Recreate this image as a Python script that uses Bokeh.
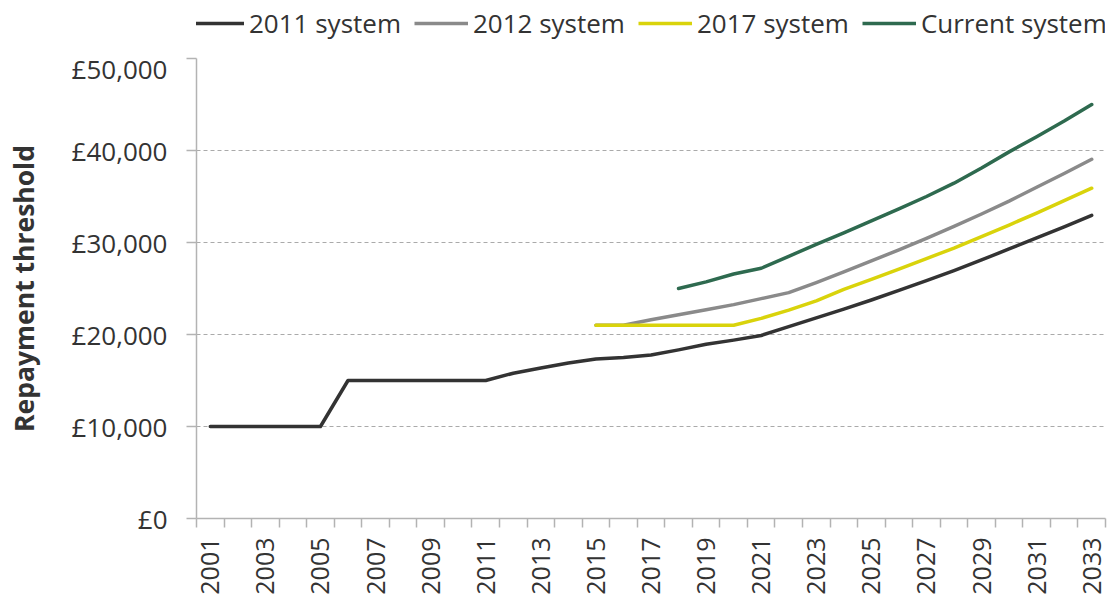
import math
from bokeh.plotting import figure
from bokeh.layouts import column
from bokeh.models import FixedTicker, Legend, LegendItem
from bokeh.embed import file_html
from bokeh.resources import INLINE

years_2011 = list(range(2001, 2034))
sys_2011 = [10000, 10000, 10000, 10000, 10000, 15000, 15000, 15000, 15000, 15000,
            15000, 15795, 16365, 16910, 17335, 17495, 17775, 18330, 18935, 19390,
            19895, 20850, 21800, 22750, 23750, 24800, 25850, 26950, 28100, 29300,
            30500, 31700, 32950]

years_2012 = list(range(2015, 2034))
sys_2012 = [21000, 21000, 21600, 22150, 22700, 23250, 23900, 24550, 25650, 26800,
            28000, 29200, 30450, 31750, 33100, 34500, 36000, 37500, 39050]

years_2017 = list(range(2015, 2034))
sys_2017 = [21000, 21000, 21000, 21000, 21000, 21000, 21750, 22650, 23650, 24900,
            26000, 27100, 28250, 29400, 30650, 31900, 33200, 34550, 35900]

years_cur = list(range(2018, 2034))
sys_cur = [25000, 25725, 26575, 27200, 28500, 29800, 31050, 32350, 33650, 35000,
           36450, 38100, 39850, 41500, 43200, 45000]

series_names = ["2011 system", "2012 system", "2017 system", "Current system"]
series_colors = ["#333333", "#8a8a8a", "#d9d30b", "#2e6a4f"]

y_ticks = [0, 10000, 20000, 30000, 40000, 50000]
y_tick_labels = ["£0", "£10,000", "£20,000", "£30,000", "£40,000", "£50,000"]
x_label_years = list(range(2001, 2034, 2))

FONT = "Open Sans"
TXT = "#333333"
AX = "#b3b3b3"

# ---- main chart ----
p = figure(width=1109, height=547, x_range=(2000.5, 2033.5), y_range=(0, 50000),
           output_backend="svg", toolbar_location=None,
           min_border_left=196, min_border_right=4, min_border_top=8, min_border_bottom=78)
p.outline_line_color = None
p.xgrid.grid_line_color = None
p.ygrid.grid_line_color = "#aaaaaa"
p.ygrid.grid_line_dash = "4 3"
p.ygrid.grid_line_width = 1

for xs, ys, c in [(years_2011, sys_2011, series_colors[0]),
                  (years_2012, sys_2012, series_colors[1]),
                  (years_2017, sys_2017, series_colors[2]),
                  (years_cur, sys_cur, series_colors[3])]:
    p.line(xs, ys, line_color=c, line_width=3.5, line_cap="round", line_join="round")

# y axis
p.yaxis.ticker = FixedTicker(ticks=y_ticks)
p.yaxis.major_label_overrides = {t: l for t, l in zip(y_ticks, y_tick_labels)}
p.yaxis.axis_line_color = AX
p.yaxis.axis_line_width = 1.5
p.yaxis.major_tick_line_color = AX
p.yaxis.major_tick_line_width = 1.5
p.yaxis.major_tick_out = 10
p.yaxis.major_tick_in = 0
p.yaxis.minor_tick_line_color = None
p.yaxis.major_label_standoff = 19
p.yaxis.major_label_text_font = FONT
p.yaxis.major_label_text_font_size = "26px"
p.yaxis.major_label_text_color = TXT
p.yaxis.axis_label = "Repayment threshold"
p.yaxis.axis_label_text_font = FONT
p.yaxis.axis_label_text_font_style = "bold"
p.yaxis.axis_label_text_font_size = "26.5px"
p.yaxis.axis_label_text_color = TXT
p.yaxis.axis_label_standoff = 27

# x axis
p.xaxis.ticker = FixedTicker(ticks=x_label_years,
                             minor_ticks=[y - 0.5 for y in range(2001, 2035)])
p.xaxis.axis_line_color = AX
p.xaxis.axis_line_width = 1.5
p.xaxis.major_tick_line_color = None
p.xaxis.major_tick_out = 0
p.xaxis.major_tick_in = 0
p.xaxis.minor_tick_line_color = AX
p.xaxis.minor_tick_line_width = 1.5
p.xaxis.minor_tick_out = 9
p.xaxis.minor_tick_in = 0
p.xaxis.major_label_orientation = math.pi / 2
p.xaxis.major_label_standoff = 10
p.xaxis.major_label_text_font = FONT
p.xaxis.major_label_text_font_size = "25px"
p.xaxis.major_label_text_color = TXT

# ---- legend strip ----
lg = figure(width=1109, height=50, x_range=(0, 1), y_range=(0, 1),
            output_backend="svg", toolbar_location=None,
            x_axis_location=None, y_axis_location=None, min_border=0)
lg.outline_line_color = None
lg.grid.grid_line_color = None
nan = float("nan")
dummies = [lg.line(x=[nan], y=[nan], line_color=c, line_width=3.5) for c in series_colors]
legend = Legend(items=[LegendItem(label=n, renderers=[r]) for n, r in zip(series_names, dummies)],
                orientation="horizontal", location=(-6, 9),
                glyph_width=54, glyph_height=20, label_standoff=5, spacing=13,
                padding=0, margin=0, background_fill_alpha=0, border_line_alpha=0,
                label_text_font=FONT, label_text_font_size="26px", label_text_color=TXT)
lg.add_layout(legend)

layout = column(lg, p, spacing=0)
open("out.html", "w").write(file_html(layout, INLINE))
